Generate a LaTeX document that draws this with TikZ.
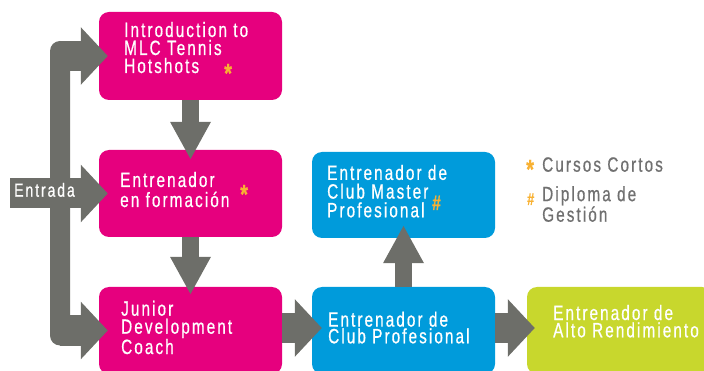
\documentclass[tikz,border=0pt]{standalone}
\usepackage{fontspec}
\setmainfont{Liberation Sans}[FakeStretch=0.74,LetterSpace=10,FakeBold=0.6]
\usetikzlibrary{arrows.meta,positioning}
\definecolor{hotpink}{HTML}{E6007E}
\definecolor{clubblue}{HTML}{009BDB}
\definecolor{limegreen}{HTML}{C8D72D}
\definecolor{arrowgrey}{HTML}{6D6E69}
\definecolor{keygrey}{HTML}{707070}
\definecolor{markgold}{HTML}{F8B133}
\tikzset{>=stealth}

\begin{document}
\begin{tikzpicture}[x=1pt,y=-1pt,
    box/.style={rectangle,rounded corners=10pt,minimum width=183pt,inner sep=0pt},
    txt/.style={anchor=base west,align=left,inner sep=0pt,text=white,font=\fontsize{20.7}{18}\selectfont},
    keytxt/.style={txt,text=keygrey},
    starmark/.style={anchor=base west,inner sep=0pt,text=markgold,font=\fontsize{27}{27}\selectfont\bfseries},
    hashmark/.style={starmark,font=\fontsize{21}{21}\selectfont\bfseries},
    downarr/.style={draw=arrowgrey,line width=17pt,-{Triangle[width=38pt,length=38pt]}},
    rightarr/.style={draw=arrowgrey,line width=30pt,-{Triangle[width=56pt,length=27pt]}}]
        \useasboundingbox (0,0) rectangle (704,371);

        % boxes
        \node[box,fill=hotpink,minimum height=88pt] (intro) at (190.5,56) {};
        \node[box,fill=hotpink,minimum height=87pt] (form) at (190.5,193.5) {};
        \node[box,fill=hotpink,minimum height=87pt] (junior) at (190.5,330.5) {};
        \node[box,fill=clubblue,minimum height=86pt] (master) at (403.5,195) {};
        \node[box,fill=clubblue,minimum height=87pt] (club) at (403.5,330.5) {};
        \node[box,fill=limegreen,minimum height=87pt,minimum width=185pt] (alto) at (619.5,330.5) {};

        % entry bracket
        \fill[arrowgrey,rounded corners=10pt] (50,41) rectangle (70,345.5);
        \coordinate (spine) at (60,193.5);
        \coordinate (entry) at (10,193.5);
        \draw[rightarr] (spine |- intro.west) -- ([xshift=9pt]intro.west);
        \draw[rightarr] (entry) -- ([xshift=9pt]form.west);
        \draw[rightarr] (spine |- junior.west) -- ([xshift=9pt]junior.west);

        \draw[downarr] (intro.south) -- ([yshift=-10pt]form.north);
        \draw[downarr] (form.south) -- ([yshift=-8pt]junior.north);
        \draw[downarr] (club.north) -- ([yshift=13pt]master.south);
        \draw[rightarr] ([yshift=2.5pt]junior.east) -- ([xshift=10pt,yshift=2.5pt]club.west);
        \draw[rightarr] ([yshift=2.5pt]club.east) -- ([xshift=8pt,yshift=2.5pt]alto.west);

        % texts (base = last line)
        \node[txt,font=\fontsize{19}{19}\selectfont] (entrada) at (14,196.7) {Entrada};
        \node[txt] (introtxt) at (124,73) {Introduction to\\MLC Tennis\\Hotshots};
        \node[txt,font=\fontsize{20.7}{20}\selectfont] (formtxt) at (120,207) {Entrenador\\en formación};
        \node[txt] (juniortxt) at (121,354) {Junior\\Development\\Coach};
        \node[txt,font=\fontsize{20.7}{18.7}\selectfont] (mastertxt) at (327,217.3) {Entrenador de\\Club Master\\Profesional};
        \node[txt,font=\fontsize{20.7}{16.7}\selectfont] (clubtxt) at (328,343.3) {Entrenador de\\Club Profesional};
        \node[txt,font=\fontsize{20.7}{17.3}\selectfont] (altotxt) at (553,337.3) {Entrenador de\\Alto Rendimiento};

        % key
        \node[keytxt] (key1) at (542,171.7) {Cursos Cortos};
        \node[keytxt] (key2) at (542,221.7) {Diploma de\\Gestión};

        \node[starmark] (star1) at (224,82.5) {*};
        \node[starmark] (star2) at (240,203.5) {*};
        \node[starmark] (star3) at (526,178.5) {*};
        \node[hashmark] (hash1) at (432,210) {\#};
        \node[hashmark,font=\fontsize{17}{17}\selectfont\bfseries] (hash2) at (527,205) {\#};
\end{tikzpicture}
\end{document}
